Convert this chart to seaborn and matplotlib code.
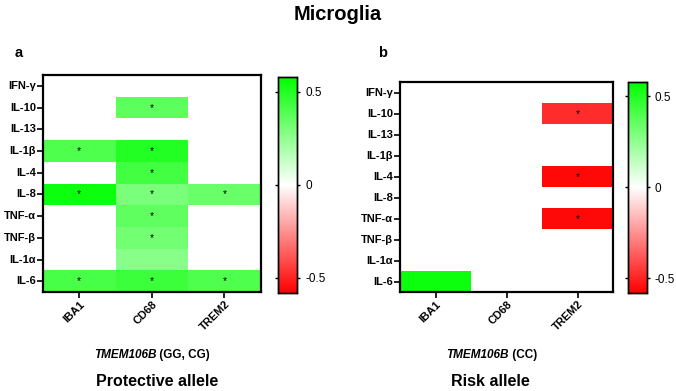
import numpy as np
import pandas as pd
import matplotlib
matplotlib.use("Agg")
import matplotlib.pyplot as plt
from matplotlib.colors import LinearSegmentedColormap
import seaborn as sns

sns.set_style("white")
plt.rcParams['font.family'] = ['Liberation Sans', 'DejaVu Sans']
for key in ['text.color', 'axes.labelcolor', 'xtick.color', 'ytick.color']:
    plt.rcParams[key] = 'black'

cytokines = ['IFN-γ', 'IL-10', 'IL-13', 'IL-1β', 'IL-4', 'IL-8', 'TNF-α', 'TNF-β', 'IL-1α', 'IL-6']
markers = ['IBA1', 'CD68', 'TREM2']
nan = np.nan

# correlation values (blank cells = NaN)
protective_iba1 = [nan, nan, nan, 0.40, nan, 0.55, nan, nan, nan, 0.42]
protective_cd68 = [nan, 0.37, nan, 0.50, 0.43, 0.30, 0.36, 0.32, 0.27, 0.44]
protective_trem2 = [nan, nan, nan, nan, nan, 0.34, nan, nan, nan, 0.40]
protective_sig = [
    ['', '', ''], ['', '*', ''], ['', '', ''], ['*', '*', ''], ['', '*', ''],
    ['*', '*', '*'], ['', '*', ''], ['', '*', ''], ['', '', ''], ['*', '*', '*'],
]

risk_iba1 = [nan, nan, nan, nan, nan, nan, nan, nan, nan, 0.55]
risk_cd68 = [nan, nan, nan, nan, nan, nan, nan, nan, nan, nan]
risk_trem2 = [nan, -0.48, nan, nan, -0.56, nan, -0.56, nan, nan, nan]
risk_sig = [
    ['', '', ''], ['', '', '*'], ['', '', ''], ['', '', ''], ['', '', '*'],
    ['', '', ''], ['', '', '*'], ['', '', ''], ['', '', ''], ['', '', ''],
]

vlim = 0.58
cmap = LinearSegmentedColormap.from_list('rwg', ['#ff0000', '#ffffff', '#00ff00'])


def draw_panel(ax, cax, values, sig):
    df = pd.DataFrame(np.array(values).T, index=cytokines, columns=markers)
    sns.heatmap(df, ax=ax, cbar_ax=cax, cmap=cmap, vmin=-vlim, vmax=vlim,
                annot=np.array(sig), fmt='', annot_kws={'fontsize': 7.5, 'color': 'black'},
                cbar_kws={'ticks': [-0.5, 0, 0.5]})
    for s in ax.spines.values():
        s.set_visible(True)
        s.set_linewidth(1.6)
        s.set_color('black')
    ax.tick_params(axis='both', which='both', length=4, width=1.2, color='black',
                   direction='out', bottom=True, left=True, pad=1)
    ax.set_yticklabels(cytokines, rotation=0, fontsize=8, fontweight='bold')
    ax.set_xticklabels(markers, rotation=45, ha='right', rotation_mode='anchor',
                       fontsize=8, fontweight='bold')
    ax.set_xlabel('')
    ax.set_ylabel('')
    cax.set_yticklabels(['-0.5', '0', '0.5'])
    cax.tick_params(labelsize=8.5, length=4, width=1, direction='inout', right=True, left=True)
    for s in cax.spines.values():
        s.set_visible(True)
        s.set_linewidth(1)
        s.set_color('black')


def gene_label(fig, xc, y, rest):
    # italic gene name followed by the genotype in plain bold, centred on xc
    r = fig.canvas.get_renderer()
    t1 = fig.text(0, y, 'TMEM106B', fontsize=8.5, fontweight='bold', style='italic', va='center')
    t2 = fig.text(0, y, ' ' + rest, fontsize=8.5, fontweight='bold', va='center')
    w1 = t1.get_window_extent(r).width / fig.bbox.width
    w2 = t2.get_window_extent(r).width / fig.bbox.width
    x0 = xc - (w1 + w2) / 2
    t1.set_x(x0)
    t2.set_x(x0 + w1)


fig = plt.figure(figsize=(6.76, 3.91), dpi=100)
ax_a = fig.add_axes([0.0636, 0.253, 0.322, 0.555])
cax_a = fig.add_axes([0.411, 0.251, 0.029, 0.552])
ax_b = fig.add_axes([0.592, 0.253, 0.315, 0.537])
cax_b = fig.add_axes([0.929, 0.251, 0.028, 0.540])

draw_panel(ax_a, cax_a, [protective_iba1, protective_cd68, protective_trem2], protective_sig)
draw_panel(ax_b, cax_b, [risk_iba1, risk_cd68, risk_trem2], risk_sig)

gene_label(fig, 0.225, 0.092, '(GG, CG)')
gene_label(fig, 0.727, 0.092, '(CC)')

fig.text(0.5, 0.962, 'Microglia', ha='center', va='center', fontsize=14.5, fontweight='bold')
fig.text(0.021, 0.865, 'a', ha='left', va='center', fontsize=10.5, fontweight='bold')
fig.text(0.560, 0.865, 'b', ha='left', va='center', fontsize=10.5, fontweight='bold')
fig.text(0.233, 0.025, 'Protective allele', ha='center', va='center', fontsize=11.5, fontweight='bold')
fig.text(0.725, 0.025, 'Risk allele', ha='center', va='center', fontsize=11.5, fontweight='bold')

fig.savefig('out.png', dpi=100)
